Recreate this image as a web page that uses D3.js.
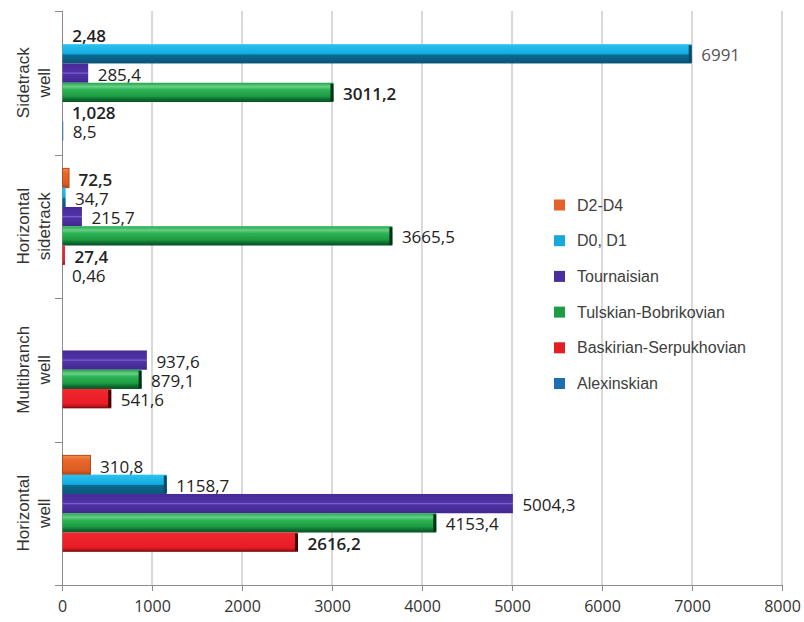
<!DOCTYPE html>
<html>
<head>
<meta charset="utf-8">
<script src="https://cdn.jsdelivr.net/npm/d3@7"></script>
<style>
  body { margin: 0; background: #fff; }
  svg { display: block; }
</style>
</head>
<body>
<div id="chart"></div>
<script>
const categories = ["Sidetrack well", "Horizontal sidetrack", "Multibranch well", "Horizontal well"];
const seriesNames = ["D2-D4", "D0, D1", "Tournaisian", "Tulskian-Bobrikovian", "Baskirian-Serpukhovian", "Alexinskian"];

// values per series, one per category (null = no bar)
const d2d4 = [2.48, 72.5, null, 310.8];
const d0d1 = [6991, 34.7, null, 1158.7];
const tournaisian = [285.4, 215.7, 937.6, 5004.3];
const tulskian = [3011.2, 3665.5, 879.1, 4153.4];
const baskirian = [1.028, 27.4, 541.6, 2616.2];
const alexinskian = [8.5, 0.46, null, null];
const seriesValues = [d2d4, d0d1, tournaisian, tulskian, baskirian, alexinskian];

const xTicks = [0, 1000, 2000, 3000, 4000, 5000, 6000, 7000, 8000];

// labels drawn in bold in the original
const boldLabels = ["0|0", "0|3", "0|4", "1|0", "1|4", "3|4"];

const width = 804, height = 622;
const margin = { top: 11, right: 22, bottom: 37, left: 62 };

const svg = d3.select("#chart")
  .append("svg")
    .attr("width", width)
    .attr("height", height);

const x = d3.scaleLinear()
  .domain([0, 8000])
  .range([margin.left, width - margin.right]);

const y0 = d3.scaleBand()
  .domain(categories)
  .range([margin.top, height - margin.bottom])
  .padding(0);

const y1 = d3.scaleBand()
  .domain(seriesNames)
  .range([0, y0.bandwidth()])
  .paddingInner(0)
  .paddingOuter(0.72);

// gradients for the bevelled bars
const gradients = [
  [[0, "#f28a4c"], [0.25, "#e8682c"], [0.8, "#db5b22"], [1, "#a9441a"]],
  [[0, "#2cc0ee"], [0.5, "#12ace0"], [0.56, "#0b6b93"], [1, "#0a5476"]],
  [[0, "#472a98"], [0.44, "#4f33a6"], [0.5, "#7c64c9"], [0.56, "#4f33a6"], [1, "#41278e"]],
  [[0, "#21a449"], [0.2, "#68cf86"], [0.36, "#2db455"], [0.7, "#1d9b43"], [0.86, "#0c6a2e"], [1, "#0a5326"]],
  [[0, "#f2262e"], [0.78, "#e71c24"], [0.9, "#b2141a"], [1, "#6e0a0e"]],
  [[0, "#2a7cbc"], [1, "#1a66a6"]]
];
const capColors = [null, "#0a4a68", null, "#06301a", "#3a0508", null];
const swatchColors = ["#e2622a", "#17a8dc", "#4a2e9e", "#1e9c44", "#e41c24", "#1e6fb0"];

const defs = svg.append("defs");
gradients.forEach((stops, i) => {
  const g = defs.append("linearGradient")
    .attr("id", "grad" + i)
    .attr("x1", 0).attr("y1", 0).attr("x2", 0).attr("y2", 1);
  stops.forEach(s => g.append("stop").attr("offset", s[0]).attr("stop-color", s[1]));
});

// vertical gridlines
svg.append("g")
  .selectAll("line")
  .data(xTicks.slice(1))
  .join("line")
    .attr("x1", d => x(d)).attr("x2", d => x(d))
    .attr("y1", margin.top).attr("y2", height - margin.bottom)
    .attr("stroke", "#b4b4b4")
    .attr("stroke-width", 1);

// x axis
const xAxis = svg.append("g")
  .attr("transform", `translate(0,${height - margin.bottom})`)
  .call(d3.axisBottom(x).tickValues(xTicks).tickSize(6).tickPadding(10).tickFormat(d3.format("d")));
xAxis.select(".domain").attr("stroke", "#8c8c8c").attr("d", `M${margin.left - 7},0.5H${width - margin.right}`);
xAxis.selectAll(".tick line").attr("stroke", "#8c8c8c");
xAxis.selectAll(".tick text")
  .attr("fill", "#333")
  .attr("font-family", "'Open Sans', sans-serif")
  .attr("font-size", 16);

// y axis line and category ticks
svg.append("line")
  .attr("x1", margin.left + 0.5).attr("x2", margin.left + 0.5)
  .attr("y1", margin.top).attr("y2", height - margin.bottom)
  .attr("stroke", "#8c8c8c");
svg.append("g")
  .selectAll("line")
  .data(categories)
  .join("line")
    .attr("x1", margin.left - 7).attr("x2", margin.left)
    .attr("y1", d => Math.round(y0(d)) + 0.5).attr("y2", d => Math.round(y0(d)) + 0.5)
    .attr("stroke", "#8c8c8c");

// category labels (rotated, two lines)
const catLabels = svg.append("g")
  .selectAll("text")
  .data(categories)
  .join("text")
    .attr("transform", d => `translate(0,${y0(d) + y0.bandwidth() / 2}) rotate(-90)`)
    .attr("text-anchor", "middle")
    .attr("font-family", "'Liberation Sans', Arial, sans-serif")
    .attr("font-size", 17)
    .attr("fill", "#333");
catLabels.each(function(d) {
  const words = d.split(" ");
  d3.select(this).selectAll("tspan")
    .data(words)
    .join("tspan")
      .attr("x", 0)
      .attr("y", (w, i) => 29 + i * 21)
      .text(w => w);
});

// bars
const cells = [];
categories.forEach((c, ci) => {
  seriesNames.forEach((s, si) => {
    const v = seriesValues[si][ci];
    if (v !== null) cells.push({ c, ci, s, si, v });
  });
});

const bars = svg.append("g")
  .selectAll("g")
  .data(cells)
  .join("g")
    .attr("transform", d => `translate(0,${y0(d.c) + y1(d.s)})`);

bars.append("rect")
  .attr("x", x(0) + 0.5)
  .attr("y", 0)
  .attr("width", d => x(d.v) - x(0))
  .attr("height", y1.bandwidth())
  .attr("fill", d => `url(#grad${d.si})`)
  .attr("stroke", d => d.si === 0 && x(d.v) - x(0) > 3 ? "#b24a1c" : "none")
  .attr("stroke-width", 1);

bars.filter(d => capColors[d.si] && x(d.v) - x(0) > 8)
  .append("rect")
    .attr("x", d => x(d.v) - 2.5)
    .attr("y", 1)
    .attr("width", 3)
    .attr("height", y1.bandwidth() - 2)
    .attr("fill", d => capColors[d.si]);

// value labels
bars.append("text")
  .attr("x", d => x(d.v) + 10)
  .attr("y", y1.bandwidth() / 2 + 1)
  .attr("dominant-baseline", "central")
  .attr("font-family", "'Open Sans', sans-serif")
  .attr("font-size", 17)
  .attr("font-weight", d => boldLabels.includes(d.ci + "|" + d.si) ? 600 : 400)
  .attr("fill", d => d.v === 6991 ? "#555" : "#222")
  .text(d => String(d.v).replace(".", ","));

// legend
const legend = svg.append("g")
  .selectAll("g")
  .data(seriesNames)
  .join("g")
    .attr("transform", (d, i) => `translate(554,${205 + i * 35.7})`);

legend.append("rect")
  .attr("x", 0).attr("y", -5.5)
  .attr("width", 11).attr("height", 11)
  .attr("fill", (d, i) => swatchColors[i]);

legend.append("text")
  .attr("x", 23)
  .attr("y", 0)
  .attr("dominant-baseline", "central")
  .attr("font-family", "'Liberation Sans', Arial, sans-serif")
  .attr("font-size", 16)
  .attr("fill", "#404040")
  .text(d => d);
</script>
</body>
</html>
